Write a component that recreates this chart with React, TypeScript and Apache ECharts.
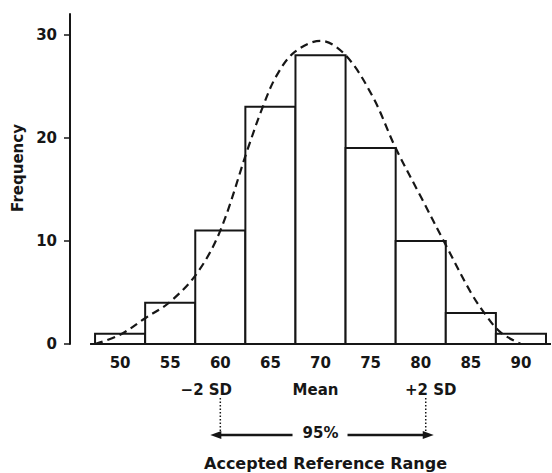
import React, { useEffect, useRef } from "react";
import * as echarts from "echarts";

const binCenters = [50, 55, 60, 65, 70, 75, 80, 85, 90];
const frequencies = [1, 4, 11, 23, 28, 19, 10, 3, 1];
const binWidth = 5;

const curveX = [47.5, 50, 52.5, 55, 57.7, 60, 62.7, 64.2, 65.6, 67.4, 70, 72.5, 75.2, 77.5, 80, 82.5, 85, 86.5, 88, 90];
const curveY = [0, 0.9, 2.5, 4.1, 6.9, 11, 18.8, 22.9, 26, 28.3, 29.4, 28, 24, 19, 14.3, 9.6, 5, 2.8, 1.1, 0];

const xTickValues = [50, 55, 60, 65, 70, 75, 80, 85, 90];
const yTickValues = [0, 10, 20, 30];

const meanValue = 70;
const lowerLimit = 60;
const upperLimit = 80.5;

const FONT = "DejaVu Sans";
const INK = "#161616";

export default function App() {
  const ref = useRef<HTMLDivElement>(null);

  useEffect(() => {
    if (!ref.current) return;
    const chart = echarts.init(ref.current, undefined, { renderer: "svg" });

    const barData = binCenters.map((c, i) => [c, frequencies[i]]);
    const curveData = curveX.map((x, i) => [x, curveY[i]]);

    chart.setOption({
      animation: false,
      backgroundColor: "#ffffff",
      grid: { left: 70, top: 14, width: 481, height: 330 },
      xAxis: {
        type: "value",
        min: 45,
        max: 93,
        axisLine: { show: false },
        splitLine: { show: false },
        axisTick: {
          show: true,
          inside: true,
          length: 4,
          customValues: xTickValues,
          lineStyle: { color: INK, width: 1.5 },
        },
        axisLabel: {
          customValues: xTickValues,
          margin: 11,
          color: INK,
          fontFamily: FONT,
          fontWeight: "bold",
          fontSize: 15,
        },
      },
      yAxis: {
        type: "value",
        min: 0,
        max: 32,
        axisLine: { show: true, lineStyle: { color: INK, width: 2 } },
        splitLine: { show: false },
        axisTick: {
          show: true,
          inside: false,
          length: 6,
          customValues: yTickValues,
          lineStyle: { color: INK, width: 1.5 },
        },
        axisLabel: {
          customValues: yTickValues,
          margin: 13,
          color: INK,
          fontFamily: FONT,
          fontWeight: "bold",
          fontSize: 15,
        },
      },
      series: [
        {
          type: "custom",
          data: barData,
          encode: { x: 0, y: 1 },
          clip: false,
          renderItem: (params: any, api: any) => {
            const c = api.value(0);
            const v = api.value(1);
            const topLeft = api.coord([c - binWidth / 2, v]);
            const bottomRight = api.coord([c + binWidth / 2, 0]);
            return {
              type: "rect",
              shape: {
                x: topLeft[0],
                y: topLeft[1],
                width: bottomRight[0] - topLeft[0],
                height: bottomRight[1] - topLeft[1],
              },
              style: { fill: "#ffffff", stroke: INK, lineWidth: 2 },
            };
          },
          markLine: {
            silent: true,
            symbol: ["none", "none"],
            label: { show: false },
            lineStyle: { color: INK, width: 2, type: "solid" },
            data: [[{ coord: [47, 0] }, { coord: [93, 0] }]],
          },
          z: 2,
        },
        {
          type: "line",
          data: curveData,
          smooth: 0.35,
          showSymbol: false,
          symbol: "none",
          lineStyle: { color: INK, width: 2.2, type: [8, 5] },
          z: 3,
        },
      ],
    });

    const px = (v: number) => chart.convertToPixel({ xAxisIndex: 0 }, v) as number;
    const xLo = px(lowerLimit);
    const xHi = px(upperLimit);
    const xMean = px(meanValue);
    const arrowY = 435;
    const textStyle = (extra: any) => ({
      fill: INK,
      fontFamily: FONT,
      fontWeight: "bold",
      fontSize: 15,
      textAlign: "center",
      textVerticalAlign: "middle",
      ...extra,
    });

    chart.setOption({
      graphic: [
        {
          type: "text",
          x: 18,
          y: 168,
          rotation: Math.PI / 2,
          style: textStyle({ text: "Frequency" }),
        },
        { type: "text", x: xLo - 14, y: 390, style: textStyle({ text: "−2 SD" }) },
        { type: "text", x: xMean - 5, y: 390, style: textStyle({ text: "Mean" }) },
        { type: "text", x: xHi + 5, y: 390, style: textStyle({ text: "+2 SD" }) },
        {
          type: "line",
          shape: { x1: xLo, y1: 398, x2: xLo, y2: 432 },
          style: { stroke: INK, lineWidth: 1.5, lineDash: [1.5, 2] },
        },
        {
          type: "line",
          shape: { x1: xHi, y1: 398, x2: xHi, y2: 432 },
          style: { stroke: INK, lineWidth: 1.5, lineDash: [1.5, 2] },
        },
        {
          type: "line",
          shape: { x1: xLo - 4, y1: arrowY, x2: xMean - 28, y2: arrowY },
          style: { stroke: INK, lineWidth: 2.5 },
        },
        {
          type: "line",
          shape: { x1: xMean + 27, y1: arrowY, x2: xHi + 2, y2: arrowY },
          style: { stroke: INK, lineWidth: 2.5 },
        },
        {
          type: "polygon",
          shape: { points: [[xLo - 10, arrowY], [xLo + 1, arrowY - 4], [xLo + 1, arrowY + 4]] },
          style: { fill: INK },
        },
        {
          type: "polygon",
          shape: { points: [[xHi + 8, arrowY], [xHi - 3, arrowY - 4], [xHi - 3, arrowY + 4]] },
          style: { fill: INK },
        },
        { type: "text", x: xMean, y: 433, style: textStyle({ text: "95%" }) },
        {
          type: "text",
          x: xMean + 5,
          y: 463,
          style: textStyle({ text: "Accepted Reference Range", fontSize: 16 }),
        },
      ],
    });

    return () => chart.dispose();
  }, []);

  return (
    <div
      ref={ref}
      style={{ position: "absolute", left: 0, top: 0, width: 552, height: 473, background: "#fff" }}
    />
  );
}
